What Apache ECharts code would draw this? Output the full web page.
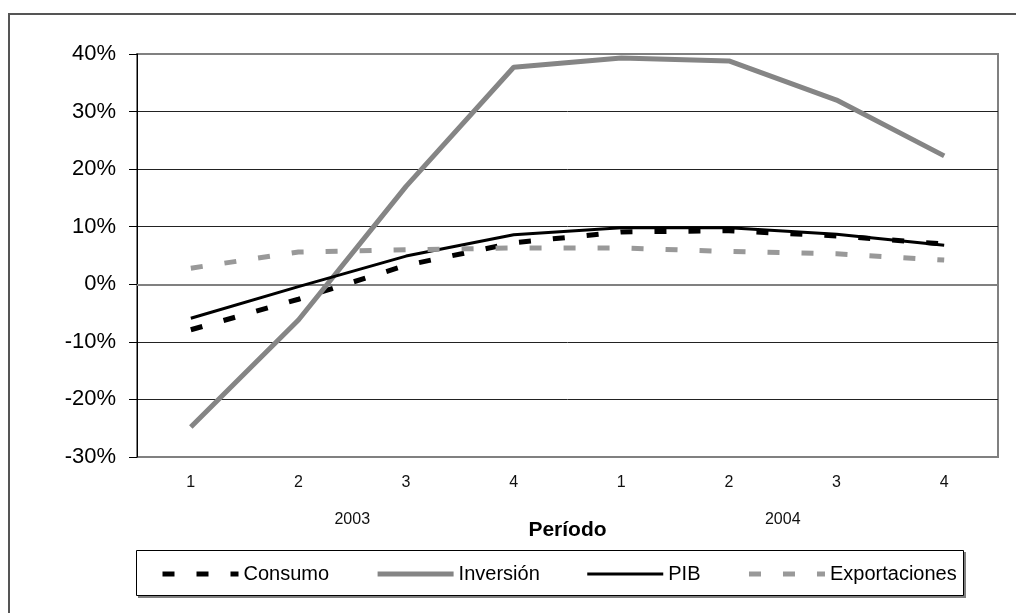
<!DOCTYPE html>
<html>
<head>
<meta charset="utf-8">
<script src="https://cdn.jsdelivr.net/npm/echarts@6/dist/echarts.min.js"></script>
<style>
html,body{margin:0;padding:0;background:#fff;}
#c{width:1016px;height:613px;}
</style>
</head>
<body>
<div id="c"></div>
<script>
const quarters = ['1','2','3','4','1','2','3','4'];
const years = ['2003','2004'];
const consumo = [-7.9, -2.6, 3.3, 7.2, 9.1, 9.3, 8.4, 7.0];
const inversion = [-24.8, -6.2, 17.0, 37.7, 39.3, 38.8, 32.0, 22.3];
const pib = [-5.9, -0.4, 4.9, 8.6, 9.8, 9.8, 8.7, 6.8];
const exportaciones = [2.8, 5.6, 6.0, 6.3, 6.3, 5.7, 5.3, 4.2];

const chart = echarts.init(document.getElementById('c'), null, {renderer:'canvas'});
const font = 'Liberation Sans, Arial, sans-serif';
chart.setOption({
  animation: false,
  backgroundColor: '#fff',
  graphic: [
    {type:'rect', z:-10, shape:{x:9, y:14, width:1030, height:640}, style:{fill:'#fff', stroke:'#555', lineWidth:2}},
    {type:'rect', z:-9, shape:{x:138, y:552, width:828, height:46}, style:{fill:'#808080', stroke:null}},
    {type:'rect', z:-8, shape:{x:136.5, y:550.5, width:827, height:45}, style:{fill:'#fff', stroke:'#000', lineWidth:1}}
  ],
  grid: {left:137, right:18, top:54, bottom:156, show:true, borderColor:'#808080', borderWidth:2, backgroundColor:'transparent'},
  legend: {
    left:160, top:564, itemWidth:76, itemHeight:14, itemGap:46, padding:0,
    itemStyle:{opacity:0},
    textStyle:{fontFamily:font, fontSize:20, color:'#000'},
    data:[
      {name:'Consumo', lineStyle:{width:5, color:'#000', type:[12,22]}},
      {name:'Inversión', lineStyle:{width:5, color:'#858585'}},
      {name:'PIB', lineStyle:{width:3, color:'#000'}},
      {name:'Exportaciones', lineStyle:{width:5, color:'#999', type:[12,22]}}
    ]
  },
  xAxis: [
    {type:'category', data:quarters, boundaryGap:true,
     axisLine:{show:true, lineStyle:{color:'#808080', width:2}},
     axisTick:{show:false},
     axisLabel:{margin:18, fontFamily:font, fontSize:16, color:'#111'},
     splitLine:{show:false}},
    {type:'category', data:years, boundaryGap:true, position:'bottom', offset:40,
     axisLine:{show:false}, axisTick:{show:false},
     axisLabel:{margin:15, fontFamily:font, fontSize:16, color:'#111'},
     name:'Período', nameLocation:'middle', nameGap:23, nameMoveOverlap:false,
     nameTextStyle:{fontFamily:font, fontSize:21, fontWeight:'bold', color:'#000'},
     splitLine:{show:false}}
  ],
  yAxis: {type:'value', min:-30, max:40, interval:10,
    axisLine:{show:true, lineStyle:{color:'#000', width:1}},
    axisTick:{show:true, inside:false, length:8, lineStyle:{color:'#000'}},
    axisLabel:{margin:21, formatter:'{value}%', fontFamily:font, fontSize:22, color:'#000'},
    splitLine:{show:true, lineStyle:{color:['#808080','#222','#222','#222','#222','#222','#222','#808080'], width:1}}
  },
  series: [
    {name:'Consumo', type:'line', data:consumo, showSymbol:false, symbol:'none',
     lineStyle:{color:'#000', width:5, type:[12,22]}, itemStyle:{color:'#000'}},
    {name:'Inversión', type:'line', data:inversion, showSymbol:false, symbol:'none',
     lineStyle:{color:'#858585', width:5}, itemStyle:{color:'#858585'}},
    {name:'PIB', type:'line', data:pib, showSymbol:false, symbol:'none',
     lineStyle:{color:'#000', width:3}, itemStyle:{color:'#000'}},
    {name:'Exportaciones', type:'line', data:exportaciones, showSymbol:false, symbol:'none',
     lineStyle:{color:'#999', width:5, type:[12,22]}, itemStyle:{color:'#999'}}
  ]
});
</script>
</body>
</html>
